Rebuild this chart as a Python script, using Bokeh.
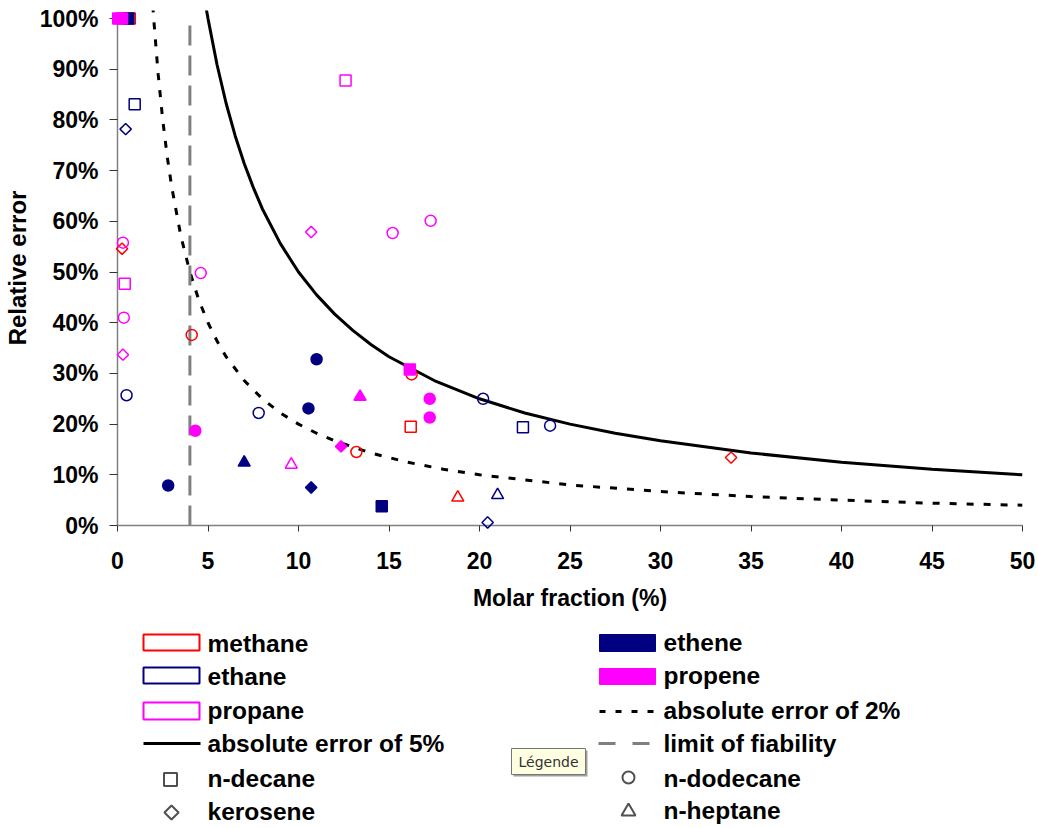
import numpy as np
from bokeh.plotting import figure
from bokeh.layouts import column
from bokeh.models import Range1d, FixedTicker, ColumnDataSource
from bokeh.core.properties import value
from bokeh.embed import file_html
from bokeh.resources import INLINE

FONT = "Liberation Sans"

# ---------------- data ----------------
x_ticks = [0, 5, 10, 15, 20, 25, 30, 35, 40, 45, 50]
x_tick_labels = ["0", "5", "10", "15", "20", "25", "30", "35", "40", "45", "50"]
y_ticks = [0, 10, 20, 30, 40, 50, 60, 70, 80, 90, 100]
y_tick_labels = ["0%", "10%", "20%", "30%", "40%", "50%", "60%", "70%", "80%", "90%", "100%"]

# methane (open, red)
methane_x = [0.68, 16.2, 4.1, 16.25, 13.2, 0.25, 33.9, 18.8]
methane_y = [100, 19.5, 37.6, 29.8, 14.5, 54.6, 13.4, 5.5]
methane_fuel = ["n-decane", "n-decane", "n-dodecane", "n-dodecane", "n-dodecane",
                "kerosene", "kerosene", "n-heptane"]
# ethane (open, navy)
ethane_x = [0.95, 22.4, 0.5, 7.8, 20.2, 23.9, 0.45, 20.45, 21.0]
ethane_y = [83.1, 19.4, 25.7, 22.2, 25.0, 19.7, 78.2, 0.6, 6.0]
ethane_fuel = ["n-decane", "n-decane", "n-dodecane", "n-dodecane", "n-dodecane",
               "n-dodecane", "kerosene", "kerosene", "n-heptane"]
# propane (open, magenta)
propane_x = [12.6, 0.4, 0.3, 4.6, 15.2, 17.3, 0.35, 10.7, 0.3, 9.6]
propane_y = [87.8, 47.7, 55.8, 49.8, 57.7, 60.1, 41.0, 57.9, 33.7, 12.0]
propane_fuel = ["n-decane", "n-decane", "n-dodecane", "n-dodecane", "n-dodecane",
                "n-dodecane", "n-dodecane", "kerosene", "kerosene", "n-heptane"]
# ethene (filled, navy)
ethene_x = [0.6, 14.6, 11.0, 10.55, 2.8, 10.7, 7.0]
ethene_y = [100, 3.8, 32.8, 23.1, 7.9, 7.5, 12.4]
ethene_fuel = ["n-decane", "n-decane", "n-dodecane", "n-dodecane", "n-dodecane",
               "kerosene", "n-heptane"]
# propene (filled, magenta)
propene_x = [0.04, 0.25, 16.15, 4.3, 17.25, 17.25, 12.35, 13.4]
propene_y = [100, 100, 30.8, 18.7, 25.0, 21.3, 15.6, 25.4]
propene_fuel = ["n-decane", "n-decane", "n-decane", "n-dodecane", "n-dodecane",
                "n-dodecane", "kerosene", "n-heptane"]

# absolute error curves (relative error vs molar fraction)
err5_x = [4.9, 5, 5.5, 6, 6.5, 7, 7.5, 8, 9, 10, 11, 12, 13, 14, 15, 17.5, 20,
          22.5, 25, 27.5, 30, 35, 40, 45, 50]
err5_y = [102.0, 100, 90.9, 83.3, 76.9, 71.4, 66.7, 62.5, 55.6, 50.0, 45.5, 41.7,
          38.5, 35.7, 33.3, 28.6, 25.0, 22.2, 20.0, 18.2, 16.7, 14.3, 12.5, 11.1, 10.0]
err2_x = [1.95, 2, 2.25, 2.5, 2.75, 3, 3.5, 4, 4.5, 5, 5.5, 6, 7, 8, 9, 10, 11, 12,
          14, 16, 18, 20, 25, 30, 35, 40, 45, 50]
err2_y = [102.6, 100, 88.9, 80.0, 72.7, 66.7, 57.1, 50.0, 44.4, 40.0, 36.4, 33.3,
          28.6, 25.0, 22.2, 20.0, 18.2, 16.7, 14.3, 12.5, 11.1, 10.0, 8.0, 6.7, 5.7,
          5.0, 4.4, 4.0]
limit_x = 4.0
limit_y = [0, 100]

# ---------------- styles ----------------
RED, NAVY, MAGENTA = "#FF0000", "#000080", "#FF00FF"
marker_style = {
    "n-decane": ("square", 0.0, 11),
    "n-dodecane": ("circle", 0.0, 11),
    "kerosene": ("square", np.pi / 4, 8),
    "n-heptane": ("triangle", 0.0, 12),
}

p = figure(width=1038, height=620, x_range=Range1d(0, 50), y_range=Range1d(0, 101.6),
           output_backend="svg", toolbar_location=None,
           min_border_left=117, min_border_right=16, min_border_top=10, min_border_bottom=95)
p.grid.visible = False
p.outline_line_color = None
p.background_fill_color = "white"
p.border_fill_color = "white"

for ax in (p.xaxis[0], p.yaxis[0]):
    ax.axis_line_color = "#808080"
    ax.axis_line_width = 1.5
    ax.major_tick_line_color = "#333333"
    ax.major_tick_line_width = 1
    ax.minor_tick_line_color = None
    ax.major_tick_in = 0
    ax.major_label_text_font = FONT
    ax.major_label_text_font_style = "bold"
    ax.major_label_text_font_size = "23px"
    ax.major_label_text_color = "black"
    ax.axis_label_text_font = FONT
    ax.axis_label_text_font_style = "bold"
    ax.axis_label_text_color = "black"

p.xaxis.ticker = FixedTicker(ticks=x_ticks)
p.xaxis.major_label_overrides = dict(zip(x_ticks, x_tick_labels))
p.xaxis.major_tick_out = 6
p.xaxis.major_label_standoff = 20
p.xaxis.bounds = (0, 50)
p.xaxis.axis_label = "Molar fraction (%)"
p.xaxis.axis_label_text_font_size = "23px"
p.xaxis.axis_label_standoff = 13

p.yaxis.ticker = FixedTicker(ticks=y_ticks)
p.yaxis.major_label_overrides = dict(zip(y_ticks, y_tick_labels))
p.yaxis.major_tick_out = 8
p.yaxis.major_label_standoff = 11
p.yaxis.bounds = (0, 100)
p.yaxis.axis_label = "Relative error"
p.yaxis.axis_label_text_font_size = "24px"
p.yaxis.axis_label_standoff = 6

# curves
p.line(err5_x, err5_y, line_color="black", line_width=3)
p.line(err2_x, err2_y, line_color="black", line_width=3, line_dash="7 10")
p.line([limit_x, limit_x], limit_y, line_color="#808080", line_width=3, line_dash="20 10")

def add_points(xs, ys, fuels, color, filled):
    src = ColumnDataSource(dict(
        x=xs, y=ys,
        marker=[marker_style[f][0] for f in fuels],
        angle=[marker_style[f][1] for f in fuels],
        size=[marker_style[f][2] for f in fuels],
    ))
    r = p.scatter("x", "y", source=src, marker="marker", angle="angle", size="size",
                  line_color=color, line_width=1.5,
                  fill_color=color if filled else None)
    r.level = "overlay"

add_points(methane_x, methane_y, methane_fuel, RED, False)
add_points(ethane_x, ethane_y, ethane_fuel, NAVY, False)
add_points(propane_x, propane_y, propane_fuel, MAGENTA, False)
add_points(ethene_x, ethene_y, ethene_fuel, NAVY, True)
add_points(propene_x, propene_y, propene_fuel, MAGENTA, True)

# ---------------- legend (page pixel coordinates) ----------------
# the column layout aligns this frame with the main plot frame (page x 117..1022)
leg = figure(width=1038, height=208, x_range=Range1d(117, 1022), y_range=Range1d(828, 620),
             output_backend="svg", toolbar_location=None, x_axis_type=None, y_axis_type=None,
             min_border_left=117, min_border_right=16, min_border_top=0, min_border_bottom=0)
leg.grid.visible = False
leg.outline_line_color = None
leg.background_fill_color = "white"
leg.border_fill_color = "white"

# colour swatches
leg.quad(left=[143, 143, 143], right=[199, 199, 199], top=[634, 667, 702],
         bottom=[650, 683, 719], fill_color=None, line_color=[RED, NAVY, MAGENTA],
         line_width=2)
leg.quad(left=[599, 599], right=[655, 655], top=[634, 668], bottom=[651, 684],
         fill_color=[NAVY, MAGENTA], line_color=[NAVY, MAGENTA])
leg.line([143, 200], [743, 743], line_color="black", line_width=3)
leg.line([599, 657], [711, 711], line_color="black", line_width=3, line_dash="6 10")
leg.line([598, 652], [743, 743], line_color="#808080", line_width=3, line_dash="17 17")
GREY = "#505050"
leg.scatter([170], [779], marker="square", size=13, fill_color=None, line_color=GREY, line_width=2)
leg.scatter([171], [812], marker="square", angle=np.pi / 4, size=10, fill_color=None,
            line_color=GREY, line_width=2)
leg.scatter([628], [777], marker="circle", size=12, fill_color=None, line_color=GREY, line_width=2)
leg.scatter([628], [811], marker="triangle", size=14, fill_color=None, line_color=GREY, line_width=2)

leg_left_text = ["methane", "ethane", "propane", "absolute error of 5%", "n-decane", "kerosene"]
leg_left_mid = [643.4, 675.7, 709.7, 743.4, 778.2, 810.7]
leg_right_text = ["ethene", "propene", "absolute error of 2%", "limit of fiability",
                  "n-dodecane", "n-heptane"]
leg_right_mid = [641.7, 674.7, 709.7, 743.4, 777.7, 809.7]
leg.text(x=[207] * 6, y=leg_left_mid, text=leg_left_text, text_font=value(FONT),
         text_font_style="bold", text_font_size="24.5px", text_baseline="middle",
         text_color="black")
leg.text(x=[663] * 6, y=leg_right_mid, text=leg_right_text, text_font=value(FONT),
         text_font_style="bold", text_font_size="24.5px", text_baseline="middle",
         text_color="black")

# "Légende" tooltip box
leg.quad(left=[513], right=[587], top=[750], bottom=[776], fill_color="#A0A0A0", line_color=None)
leg.quad(left=[511], right=[585], top=[748], bottom=[774], fill_color="#FFFFE1",
         line_color="#767676", line_width=1)
leg.text(x=[548], y=[761], text=["Légende"], text_font=value("DejaVu Sans"),
         text_font_size="14px", text_align="center", text_baseline="middle",
         text_color="#333333")

layout = column(p, leg, spacing=0)
open("out.html", "w").write(file_html(layout, INLINE))
